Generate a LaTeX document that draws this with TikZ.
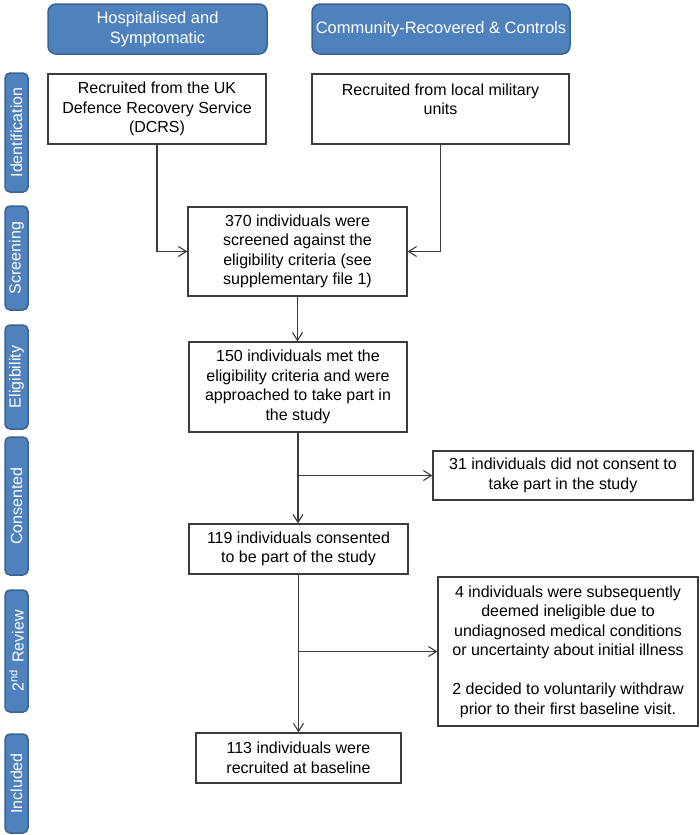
\documentclass[tikz,border=0pt]{standalone}
\usepackage{fontspec}
\setmainfont{Liberation Sans}
\usetikzlibrary{arrows.meta}
\definecolor{hdrblue}{HTML}{4F81BD}
\definecolor{hdrline}{HTML}{3A6593}
\definecolor{boxline}{HTML}{3C3C3C}
\begin{document}
\begin{tikzpicture}[x=1pt,y=-1pt, font=\fontsize{16}{19.5}\selectfont,
  hdr/.style={draw=hdrline, line width=1.5pt, fill=hdrblue, rounded corners=8pt, text=white, align=center, inner sep=0pt, font=\fontsize{16.5}{20}\selectfont},
  side/.style={draw=hdrline, line width=1.5pt, fill=hdrblue, rounded corners=5pt, text=white, inner sep=0pt, rotate=90, minimum height=23pt},
  box/.style={draw=boxline, line width=1.2pt, fill=white, align=center, inner sep=0pt},
  arr/.style={draw=boxline, line width=1.1pt, -{Straight Barb[length=8pt,width=10pt]}}]
\useasboundingbox (0,0) rectangle (700,835);
\fill[white] (0,0) rectangle (700,835);
% headers
\node[hdr, minimum width=219pt, minimum height=50pt] (h1) at (157.5,29) {Hospitalised and\\Symptomatic};
\node[hdr, minimum width=258pt, minimum height=50pt] (h2) at (441,29) {Community-Recovered \& Controls};
% side labels
\node[side, minimum width=119pt] (l1) at (16.5,132.5) {Identification};
\node[side, minimum width=104pt] (l2) at (16.5,258) {Screening};
\node[side, minimum width=104pt] (l3) at (16.5,377) {Eligibility};
\node[side, minimum width=138pt] (l4) at (16.5,506) {Consented};
\node[side, minimum width=122pt] (l5) at (16.5,651) {2\textsuperscript{nd}\hspace{7pt}Review};
\node[side, minimum width=99pt] (l6) at (16.5,783.5) {Included};
% boxes
\node[box, minimum width=218pt, minimum height=70pt] (dcrs) at (157,109) {Recruited from the UK\\Defence Recovery Service\\(DCRS)};
\node[box, minimum width=257pt, minimum height=70pt] (mil) at (440.5,109) {Recruited from local military\\units\\\mbox{}};
\node[box, minimum width=219pt, minimum height=89pt] (s370) at (297.5,251.5) {370 individuals were\\screened against the\\eligibility criteria (see\\supplementary file 1)};
\node[box, minimum width=218pt, minimum height=90pt] (s150) at (298,387) {150 individuals met the\\eligibility criteria and were\\approached to take part in\\the study};
\node[box, minimum width=260pt, minimum height=49pt] (s31) at (563,475.5) {31 individuals did not consent to\\take part in the study};
\node[box, minimum width=219pt, minimum height=50pt] (s119) at (298.5,549) {119 individuals consented\\to be part of the study};
\node[box, minimum width=260pt, minimum height=149pt] (s4) at (568,651.5) {4 individuals were subsequently\\deemed ineligible due to\\undiagnosed medical conditions\\or uncertainty about initial illness\\[19.5pt]2 decided to voluntarily withdraw\\prior to their first baseline visit.};
\node[box, minimum width=205pt, minimum height=50pt] (s113) at (298.5,758) {113 individuals were\\recruited at baseline};
% connectors
\draw[arr] (dcrs.south) |- (s370.west);
\draw[arr] (mil.south) |- (s370.east);
\draw[arr] (s370.south) -- (s370.south |- s150.north);
\draw[arr] (s150.south) -- (s150.south |- s119.north);
\draw[arr] (s150.south |- s31.west) -- (s31.west);
\draw[arr] (s119.south) -- (s119.south |- s113.north);
\draw[arr] (s119.south |- s4.west) -- (s4.west);
\end{tikzpicture}
\end{document}
